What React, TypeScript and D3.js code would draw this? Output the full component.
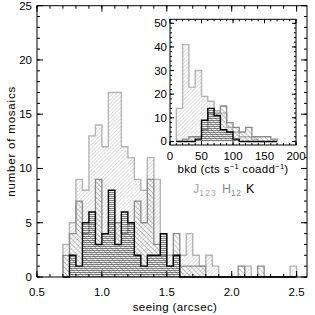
import * as React from "react";
import * as d3 from "d3";

// seeing histograms, bins of 0.05" starting at 0.70"
const seeingStart = 0.7;
const seeingWidth = 0.05;
const seeingJ = [3, 5, 9, 8, 13, 14, 12, 17, 17, 12, 11, 9, 8, 11, 9, 4, 2, 2, 2, 4, 2, 1, 2, 1, 0, 0, 0, 0, 1, 0, 0, 0, 0, 0, 0, 1];
const seeingH = [2, 4, 7, 4, 5, 9, 4, 5, 5, 4, 5, 7, 5, 9, 3, 2, 1, 4, 1, 1, 1, 1, 0, 0, 0, 0, 0, 1, 0, 0, 1, 0, 0, 0, 0, 0];
const seeingK = [0, 2, 1, 5, 6, 3, 4, 8, 3, 6, 5, 2, 1, 2, 2, 4, 1, 2, 0, 0, 0, 0, 0, 0, 0, 0, 0, 0, 0, 0, 0, 0, 0, 0, 0, 0];

// background histograms (inset), bins of 10 starting at 10
const bkdStart = 10;
const bkdWidth = 10;
const bkdJ = [14, 41, 23, 30, 19, 17, 13, 12, 6, 4, 2, 2, 1, 0, 0, 0];
const bkdH = [0, 1, 2, 2, 5, 12, 12, 15, 8, 6, 4, 6, 2, 2, 2, 1];
const bkdK = [0, 0, 0, 1, 9, 14, 11, 5, 4, 1, 0, 0, 0, 0, 0, 0];

const seeingTicks = [0.5, 1.0, 1.5, 2.0, 2.5];
const countTicks = [0, 5, 10, 15, 20, 25];
const bkdTicks = [0, 50, 100, 150, 200];
const bkdCountTicks = [0, 10, 20, 30, 40, 50];

const FONT = "'Liberation Sans', Arial, Helvetica, sans-serif";

type Scale = d3.ScaleLinear<number, number>;

function stepPath(values: number[], start: number, w: number, x: Scale, y: Scale, close: boolean) {
  const pts: [number, number][] = [[x(start), y(0)]];
  values.forEach((v, i) => {
    pts.push([x(start + i * w), y(v)]);
    pts.push([x(start + (i + 1) * w), y(v)]);
  });
  pts.push([x(start + values.length * w), y(0)]);
  return (d3.line()(pts) || "") + (close ? "Z" : "");
}

function Hist(props: { values: number[]; start: number; w: number; x: Scale; y: Scale; fill: string; stroke: string; sw: number }) {
  const { values, start, w, x, y, fill, stroke, sw } = props;
  return (
    <g>
      <path d={stepPath(values, start, w, x, y, true)} fill={fill} stroke="none" />
      <path d={stepPath(values, start, w, x, y, false)} fill="none" stroke={stroke} strokeWidth={sw} />
    </g>
  );
}

function Axes(props: { x: Scale; y: Scale; xMajor: number[]; xMinor: number[]; yMajor: number[]; yMinor: number[]; big: number; small: number }) {
  const { x, y, xMajor, xMinor, yMajor, yMinor, big, small } = props;
  const [x0, x1] = x.range();
  const [y0, y1] = y.range();
  return (
    <g stroke="#000" strokeWidth={1} fill="none">
      <rect x={x0} y={y1} width={x1 - x0} height={y0 - y1} />
      {xMinor.map((t, i) => (
        <g key={"xm" + i}>
          <line x1={x(t)} x2={x(t)} y1={y0} y2={y0 - small} />
          <line x1={x(t)} x2={x(t)} y1={y1} y2={y1 + small} />
        </g>
      ))}
      {xMajor.map((t, i) => (
        <g key={"xM" + i}>
          <line x1={x(t)} x2={x(t)} y1={y0} y2={y0 - big} />
          <line x1={x(t)} x2={x(t)} y1={y1} y2={y1 + big} />
        </g>
      ))}
      {yMinor.map((t, i) => (
        <g key={"ym" + i}>
          <line x1={x0} x2={x0 + small} y1={y(t)} y2={y(t)} />
          <line x1={x1} x2={x1 - small} y1={y(t)} y2={y(t)} />
        </g>
      ))}
      {yMajor.map((t, i) => (
        <g key={"yM" + i}>
          <line x1={x0} x2={x0 + big} y1={y(t)} y2={y(t)} />
          <line x1={x1} x2={x1 - big} y1={y(t)} y2={y(t)} />
        </g>
      ))}
    </g>
  );
}

export default function App() {
  const xMain = d3.scaleLinear().domain([0.5, 2.58]).range([37, 307]);
  const yMain = d3.scaleLinear().domain([0, 25]).range([277, 5.7]);
  const xIn = d3.scaleLinear().domain([0, 200]).range([170, 296]);
  const yIn = d3.scaleLinear().domain([-1.5, 51.7]).range([145, 19.3]);

  const xMainMinor = d3.range(5, 26).map((d) => d / 10);
  const yMainMinor = d3.range(0, 26);
  const xInMinor = d3.range(0, 201, 10);
  const yInMinor = d3.range(0, 51, 2);

  const cJ = "#b4b4b4";
  const cH = "#8a8a8a";
  const cK = "#000";

  return (
    <svg width={315} height={315} style={{ position: "absolute", left: 0, top: 0, background: "#fff" }} fontFamily={FONT}>
      <defs>
        <pattern id="pJ" patternUnits="userSpaceOnUse" width={2.6} height={2.6} patternTransform="rotate(45)">
          <line x1={0} y1={0} x2={0} y2={2.6} stroke="#bdbdbd" strokeWidth={0.9} />
        </pattern>
        <pattern id="pH" patternUnits="userSpaceOnUse" width={3.6} height={3.6} patternTransform="rotate(-45)">
          <line x1={0} y1={0} x2={0} y2={3.6} stroke="#7e7e7e" strokeWidth={0.9} />
        </pattern>
        <pattern id="pK" patternUnits="userSpaceOnUse" width={4} height={2}>
          <line x1={0} y1={0.5} x2={4} y2={0.5} stroke="#333" strokeWidth={0.6} />
        </pattern>
      </defs>
      <rect width={315} height={315} fill="#fff" />

      {/* main seeing histograms */}
      <Hist values={seeingJ} start={seeingStart} w={seeingWidth} x={xMain} y={yMain} fill="url(#pJ)" stroke={cJ} sw={1.4} />
      <Hist values={seeingH} start={seeingStart} w={seeingWidth} x={xMain} y={yMain} fill="url(#pH)" stroke={cH} sw={1.3} />
      <Hist values={seeingK} start={seeingStart} w={seeingWidth} x={xMain} y={yMain} fill="url(#pK)" stroke={cK} sw={1.4} />
      <Axes x={xMain} y={yMain} xMajor={seeingTicks} xMinor={xMainMinor} yMajor={countTicks} yMinor={yMainMinor} big={6} small={3} />

      <g fontSize={11.5} fill="#000">
        {seeingTicks.map((t) => (
          <text key={t} x={xMain(t)} y={296} textAnchor="middle">{t.toFixed(1)}</text>
        ))}
        {countTicks.map((t) => (
          <text key={t} x={32} y={yMain(t) + 4} textAnchor="end">{t}</text>
        ))}
        <text x={175} y={311} textAnchor="middle" letterSpacing={0.4}>seeing (arcsec)</text>
        <text transform={`translate(15, ${yMain(12.5)}) rotate(-90)`} textAnchor="middle" letterSpacing={0.8}>number of mosaics</text>
      </g>

      {/* inset: background */}
      <rect x={170} y={19.3} width={126} height={125.7} fill="#fff" />
      <Hist values={bkdJ} start={bkdStart} w={bkdWidth} x={xIn} y={yIn} fill="url(#pJ)" stroke={cJ} sw={1.4} />
      <Hist values={bkdH} start={bkdStart} w={bkdWidth} x={xIn} y={yIn} fill="url(#pH)" stroke={cH} sw={1.3} />
      <Hist values={bkdK} start={bkdStart} w={bkdWidth} x={xIn} y={yIn} fill="url(#pK)" stroke={cK} sw={1.4} />
      <Axes x={xIn} y={yIn} xMajor={bkdTicks} xMinor={xInMinor} yMajor={bkdCountTicks} yMinor={yInMinor} big={4} small={2} />

      <g fontSize={11.5} fill="#000">
        {bkdTicks.map((t) => (
          <text key={t} x={xIn(t)} y={160} textAnchor="middle">{t}</text>
        ))}
        {bkdCountTicks.map((t) => (
          <text key={t} x={167} y={yIn(t) + 4} textAnchor="end">{t}</text>
        ))}
        <text x={233} y={173} textAnchor="middle" letterSpacing={0.3}>
          bkd (cts s<tspan dy={-4} fontSize={7.5}>−1</tspan>
          <tspan dy={4}> coadd</tspan>
          <tspan dy={-4} fontSize={7.5}>−1</tspan>
          <tspan dy={4}>)</tspan>
        </text>
      </g>

      {/* legend */}
      <g fontSize={12.5}>
        <text x={193} y={193} fill="#a8a8a8">
          J<tspan dy={3} fontSize={8.5} letterSpacing={1.2}>123</tspan>
        </text>
        <text x={222} y={193} fill="#888">
          H<tspan dy={3} fontSize={8.5} letterSpacing={0.4}>12</tspan>
        </text>
        <text x={246} y={193} fill="#000">K</text>
      </g>
    </svg>
  );
}
